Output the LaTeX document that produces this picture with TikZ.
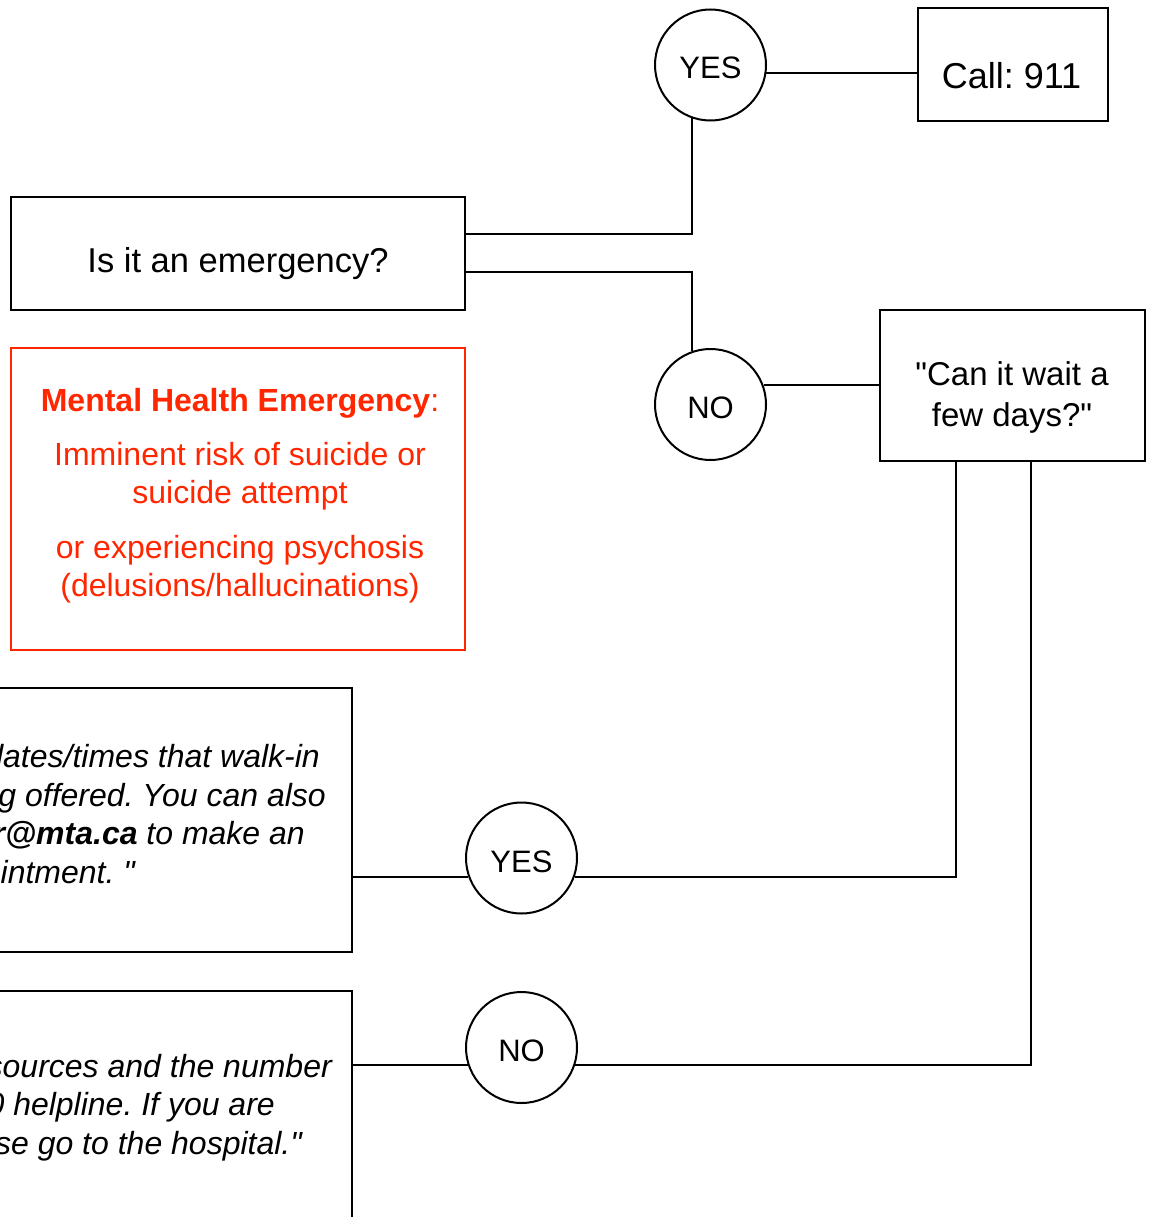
\documentclass[tikz,border=0pt]{standalone}
\usepackage{fontspec}
\setmainfont{Liberation Sans}[Ligatures=TeXOff]
\frenchspacing
\definecolor{mhred}{RGB}{255,38,0}
\tikzset{
  box/.style={draw=black, line width=2pt, inner sep=0pt, rectangle},
  circ/.style={draw=black, line width=2pt, circle, inner sep=0pt, minimum size=111pt, text height=28pt, text depth=0pt, font=\fontsize{31}{37}\selectfont},
  conn/.style={draw=black, line width=2pt},
  txt/.style={inner sep=0pt, align=center},
}
\begin{document}
\begin{tikzpicture}[x=1pt,y=-1pt]
\useasboundingbox (0,0) rectangle (1154,1217);
\clip (0,0) rectangle (1154,1217);
\fill[white] (0,0) rectangle (1154,1217);

% boxes
\node[box, minimum width=190pt, minimum height=113pt] (call) at (1013,64.5) {};
\node[box, minimum width=454pt, minimum height=113pt] (emerg) at (238,253.5) {};
\node[box, minimum width=265pt, minimum height=151pt] (wait) at (1012.5,385.5) {};
\node[box, draw=mhred, minimum width=454pt, minimum height=302pt] (mhe) at (238,499) {};
\node[box, minimum width=502pt, minimum height=264pt] (cut1) at (101,820) {};
\node[box, minimum width=502pt, minimum height=249pt] (cut2) at (101,1115.5) {};

% circles
\node[circ] (yes1) at (710.5,65) {YES};
\node[circ] (no1) at (710.5,404.5) {NO};
\node[circ] (yes2) at (521.5,858) {YES};
\node[circ] (no2) at (521.5,1047.5) {NO};

% texts
\node[txt, anchor=base, font=\fontsize{36}{43}\selectfont] (calltxt) at (1011.5,89) {Call: 911};
\node[txt, anchor=base, font=\fontsize{34.5}{41}\selectfont] (emergtxt) at (238,272) {Is it an emergency?};
\node[txt, anchor=north, font=\fontsize{33}{41}\selectfont] (waittxt) at (1012,361) {"Can it wait a\\few days?"};
\node[txt, anchor=north, text=mhred, font=\fontsize{32}{38}\selectfont] (mhetxt) at (240,388)
  {{\bfseries Mental Health Emergency}:\\[16.5pt]
   Imminent risk of suicide or\\suicide attempt\\[16.5pt]
   or experiencing psychosis\\(delusions/hallucinations)};
\node[txt, align=right, anchor=north east, font=\fontsize{32}{38.7}\selectfont\itshape] (cut1txt) at (326,744)
  {the dates/times that walk-in\rule{6pt}{0pt}\\
   is being offered. You can also\\
   email \textbf{counsellor@mta.ca} to make an\rule{21pt}{0pt}\\
   appointment. "\rule{191pt}{0pt}};
\node[txt, align=right, anchor=north east, font=\fontsize{32}{38.5}\selectfont\itshape] (cut2txt) at (332,1054)
  {resources and the number\\
   00 helpline. If you are\rule{57pt}{0pt}\\
   please go to the hospital."\rule{30pt}{0pt}};

% connectors
\draw[conn] (yes1.-8) -- (yes1.-8 -| call.west);
\draw[conn] ([yshift=19.5pt]emerg.east) -| (yes1.-109.5);
\draw[conn] ([yshift=-18.5pt]emerg.east) -| (no1.109.5);
\draw[conn] (no1.20) -- (no1.20 -| wait.west);
\draw[conn] (yes2.-20) -| ([xshift=-56.5pt]wait.south);
\draw[conn] (no2.-18) -| ([xshift=18.5pt]wait.south);
\draw[conn] (yes2.-160) -- (yes2.-160 -| cut1.east);
\draw[conn] (no2.-162) -- (no2.-162 -| cut2.east);
\end{tikzpicture}
\end{document}
